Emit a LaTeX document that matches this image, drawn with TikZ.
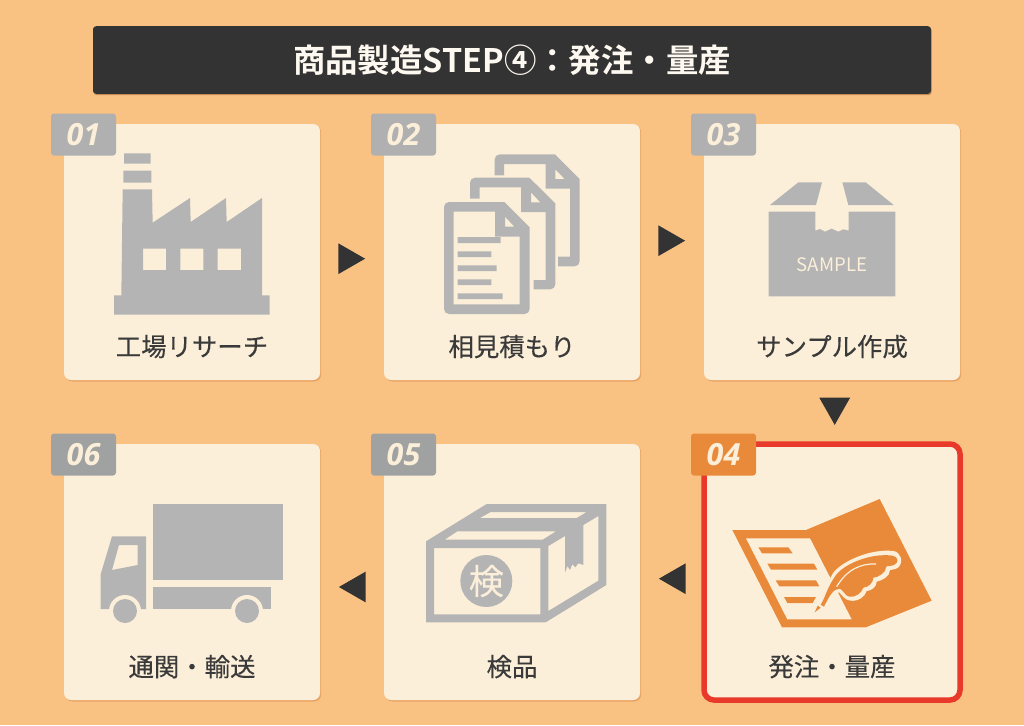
\documentclass[tikz,border=0pt]{standalone}
\usepackage{fontspec}
\usetikzlibrary{shadows}
\newfontfamily\cjk[BoldFont={Noto Sans CJK JP Bold}]{Noto Sans CJK JP}
\newfontfamily\cjkm[FakeBold=0.25]{Noto Sans CJK JP}
\newfontfamily\badgefont[BoldItalicFont={Open Sans Bold Italic}]{Open Sans}
\definecolor{bgc}{HTML}{F9C283}
\definecolor{cardc}{HTML}{FCEFD9}
\definecolor{shc}{HTML}{E8A566}
\definecolor{iconc}{HTML}{B4B4B4}
\definecolor{badgetop}{HTML}{B0B0B0}
\definecolor{badgelow}{HTML}{A0A2A2}
\definecolor{orangec}{HTML}{E98A3B}
\definecolor{redc}{HTML}{E8392A}
\definecolor{darkc}{HTML}{333333}
\definecolor{labelc}{HTML}{3A3A3A}
\tikzset{
  icon/.style 2 args={shift={(#1,#2)},x=0.33333pt,y=-0.33333pt},
  card/.style={fill=cardc,rounded corners=7pt,minimum width=256pt,minimum height=256pt,inner sep=0pt,
    general shadow={fill=shc,shadow xshift=1.2pt,shadow yshift=-1.5pt}},
  hotcard/.style={card,draw=redc,line width=5.5pt,rounded corners=10pt},
  badge/.style={rounded corners=3pt,minimum width=65pt,minimum height=42pt,inner sep=0pt,text=cardc,
    font=\badgefont\bfseries\itshape\fontsize{30.5}{30.5}\selectfont},
  label/.style={inner sep=0pt,text=labelc,font=\cjkm\fontsize{25.4}{25.4}\selectfont},
  tri/.style={fill=darkc},
  gray/.style={fill=iconc,even odd rule},
}
\begin{document}
\begin{tikzpicture}[x=1pt,y=-1pt]
\useasboundingbox (0,0) rectangle (1024,725);
\fill[bgc] (0,0) rectangle (1024,725);
% title
\node[fill=darkc,rounded corners=3pt,minimum width=838pt,minimum height=67.5pt,inner sep=0pt,text=cardc!40!white,
  general shadow={fill=shc!85!black,shadow xshift=0.6pt,shadow yshift=-1.4pt},
  font=\cjk\bfseries\fontsize{32.4}{32.4}\selectfont] (title) at (512,60) {商品製造STEP④：発注・量産};
% cards
\node[card] (c1) at (192,252) {};
\node[card] (c2) at (512,252) {};
\node[card] (c3) at (832,252) {};
\node[card] (c6) at (192,572) {};
\node[card] (c5) at (512,572) {};
\node[hotcard] (c4) at (832,572) {};
% flow triangles
\coordinate (a12) at (351.7,258.7);
\coordinate (a23) at (671.7,240.7);
\coordinate (a34) at (834.7,411.3);
\coordinate (a45) at (672.3,578.7);
\coordinate (a56) at (352.3,587);
\fill[tri] (a12) ++(-13.4,-15.4) -- ++(26.8,15.4) -- ++(-26.8,15.4) -- cycle;
\fill[tri] (a23) ++(-13.4,-15.4) -- ++(26.8,15.4) -- ++(-26.8,15.4) -- cycle;
\fill[tri] (a34) ++(-15.4,-13.6) -- ++(30.8,0) -- ++(-15.4,27.2) -- cycle;
\fill[tri] (a45) ++(13.4,-15.4) -- ++(-26.8,15.4) -- ++(26.8,15.4) -- cycle;
\fill[tri] (a56) ++(13.4,-15.4) -- ++(-26.8,15.4) -- ++(26.8,15.4) -- cycle;
% factory
\begin{scope}[icon={50}{110}]
\fill[gray] (222,130) rectangle (302,161) (220,182) rectangle (304,218);
\fill[gray] (218,238) -- (306,238) -- (308,338) -- (420,264) -- (422,336) -- (528,264) -- (530,336) -- (636,264) -- (636,556) -- (659,556) -- (659,614) -- (192,614) -- (192,556) -- (214,556) -- cycle
 (279,416) rectangle (348,480) (391,416) rectangle (460,480) (503,416) rectangle (573,480);
\end{scope}
% documents
\begin{scope}[icon={370}{110}]
\fill[gray] (374,196) -- (374,148) arc[start angle=180,end angle=270,radius=15] -- (555,133) -- (629,207) -- (629,454) arc[start angle=0,end angle=90,radius=15] -- (564,469) -- (564,440) -- (600,440) -- (600,236) -- (527,236) -- (527,162) -- (402,162) -- (402,196) -- cycle
 (556,178) -- (556,207) -- (584,207) -- cycle;
\fill[gray] (300,266) -- (300,218) arc[start angle=180,end angle=270,radius=15] -- (478,203) -- (556,280) -- (556,523) arc[start angle=0,end angle=90,radius=15] -- (491,538) -- (491,510) -- (527,510) -- (527,306) -- (453,306) -- (453,232) -- (329,232) -- (329,266) -- cycle
 (483,247) -- (483,277) -- (511,277) -- cycle;
\fill[gray] (222,291) arc[start angle=180,end angle=270,radius=15] -- (403,276) -- (479,352) -- (479,597) arc[start angle=0,end angle=90,radius=15] -- (237,612) arc[start angle=90,end angle=180,radius=15] -- cycle
 (251,305) -- (375,305) -- (375,380) -- (449,380) -- (449,583) -- (251,583) -- cycle
 (405,320) -- (405,350) -- (433,350) -- cycle;
\fill[gray] (263,381) rectangle (392,399) (263,424) rectangle (364,441) (263,466) rectangle (380,483) (263,508) rectangle (364,525) (263,550) rectangle (398,567);
\end{scope}
% sample box
\begin{scope}[icon={690}{110}]
\fill[gray] (240,285) -- (325,217) -- (396,217) -- (378,285) -- cycle;
\fill[gray] (457,217) -- (527,217) -- (611,285) -- (475,285) -- cycle;
\fill[gray] (236,305) -- (376,305) -- (376,362) -- (390,357) -- (405,365) -- (425,356) -- (445,365) -- (460,358) -- (476,362) -- (476,305) -- (616,305) -- (616,559) -- (236,559) -- cycle;
\node[inner sep=0pt,text=cardc,font=\cjk\fontsize{18.6}{18.6}\selectfont] (samp) at (426,465) {SAMPLE};
\end{scope}
% order sheet
\begin{scope}[icon={690}{430}]
\fill[orangec] (127,300) -- (348,300) -- (569,207) -- (725,512) -- (527,592) -- (276,592) -- cycle;
\fill[cardc] (168,325) -- (360,325) -- (485,568) -- (292,568) -- cycle;
\fill[orangec] (205,352) -- (295,352) -- (308,370) -- (216,370) -- cycle
 (232,401) -- (372,401) -- (382,419) -- (243,419) -- cycle
 (257,451) -- (378,451) -- (388,469) -- (268,469) -- cycle
 (282,501) -- (378,501) -- (368,519) -- (292,519) -- cycle;
\fill[cardc] (372,550) -- (385,518) .. controls (395,505) and (405,470) .. (430,428) .. controls (455,395) and (540,355) .. (610,363) .. controls (632,366) and (642,395) .. (625,412) .. controls (615,420) and (605,418) .. (600,420) .. controls (600,440) and (575,452) .. (560,455) .. controls (560,470) and (545,482) .. (530,483) .. controls (525,500) and (505,515) .. (480,512) .. controls (465,510) and (455,495) .. (448,487) .. controls (430,488) and (420,505) .. (405,520) -- cycle;
\fill[orangec] (392,524) .. controls (405,505) and (412,470) .. (438,435) .. controls (465,400) and (545,368) .. (608,377) .. controls (625,380) and (628,398) .. (612,405) .. controls (600,410) and (590,405) .. (588,412) .. controls (590,425) and (565,443) .. (550,443) .. controls (550,458) and (535,472) .. (520,473) .. controls (515,490) and (495,503) .. (478,500) .. controls (465,497) and (460,482) .. (450,476) .. controls (430,475) and (418,498) .. (402,530) -- cycle;
\fill[orangec] (374,547) -- (383,527) -- (392,533) -- cycle;
\draw[cardc,line width=1.2pt] (440,470) .. controls (470,420) and (510,400) .. (558,402);
\end{scope}
% inspection box
\begin{scope}[icon={370}{430}]
\fill[gray] (168,334) -- (350,222) -- (709,222) -- (709,465) -- (527,577) -- (168,577) -- cycle
 (192,354) rectangle (511,553)
 (224,329) -- (262,304) -- (558,304) -- (518,329) -- cycle
 (330,264) -- (362,246) -- (650,246) -- (620,264) -- cycle
 (535,348) -- (585,318) -- (585,428) -- (592,408) -- (600,420) -- (607,403) -- (616,412) -- (625,400) -- (640,405) -- (640,285) -- (685,258) -- (685,452) -- (535,543) -- cycle;
\fill[gray] (349,453) circle[radius=78];
\node[inner sep=0pt,text=cardc,font=\cjkm\fontsize{35}{35}\selectfont] (ken) at (349,453) {検};
\end{scope}
% truck
\begin{scope}[icon={50}{430}]
\fill[gray] (310,222) rectangle (700,449);
\fill[gray] (310,472) rectangle (662,537);
\fill[gray] (186,319) -- (288,319) -- (288,537) -- (152,537) -- (152,433) -- cycle
 (207,345) -- (263,345) -- (263,405) -- (186,420) -- cycle;
\fill[cardc] (225,543) circle[radius=48] (591,543) circle[radius=48];
\fill[gray] (225,543) circle[radius=36] (591,543) circle[radius=36];
\end{scope}
% badges
\node[badge,fill=badgetop] (b1) at (83.5,134.5) {01};
\node[badge,fill=badgetop] (b2) at (403.5,134.5) {02};
\node[badge,fill=badgetop] (b3) at (723.5,134.5) {03};
\node[badge,fill=orangec] (b4) at (723.5,454.5) {04};
\node[badge,fill=badgelow] (b5) at (403.5,454.5) {05};
\node[badge,fill=badgelow] (b6) at (83.5,454.5) {06};
% labels
\node[label] (l1) at (192,346.6) {工場リサーチ};
\node[label] (l2) at (512,346.6) {相見積もり};
\node[label] (l3) at (832,346.6) {サンプル作成};
\node[label] (l4) at (832,666.6) {発注・量産};
\node[label] (l5) at (512,666.6) {検品};
\node[label] (l6) at (192,666.6) {通関・輸送};
\end{tikzpicture}
\end{document}
